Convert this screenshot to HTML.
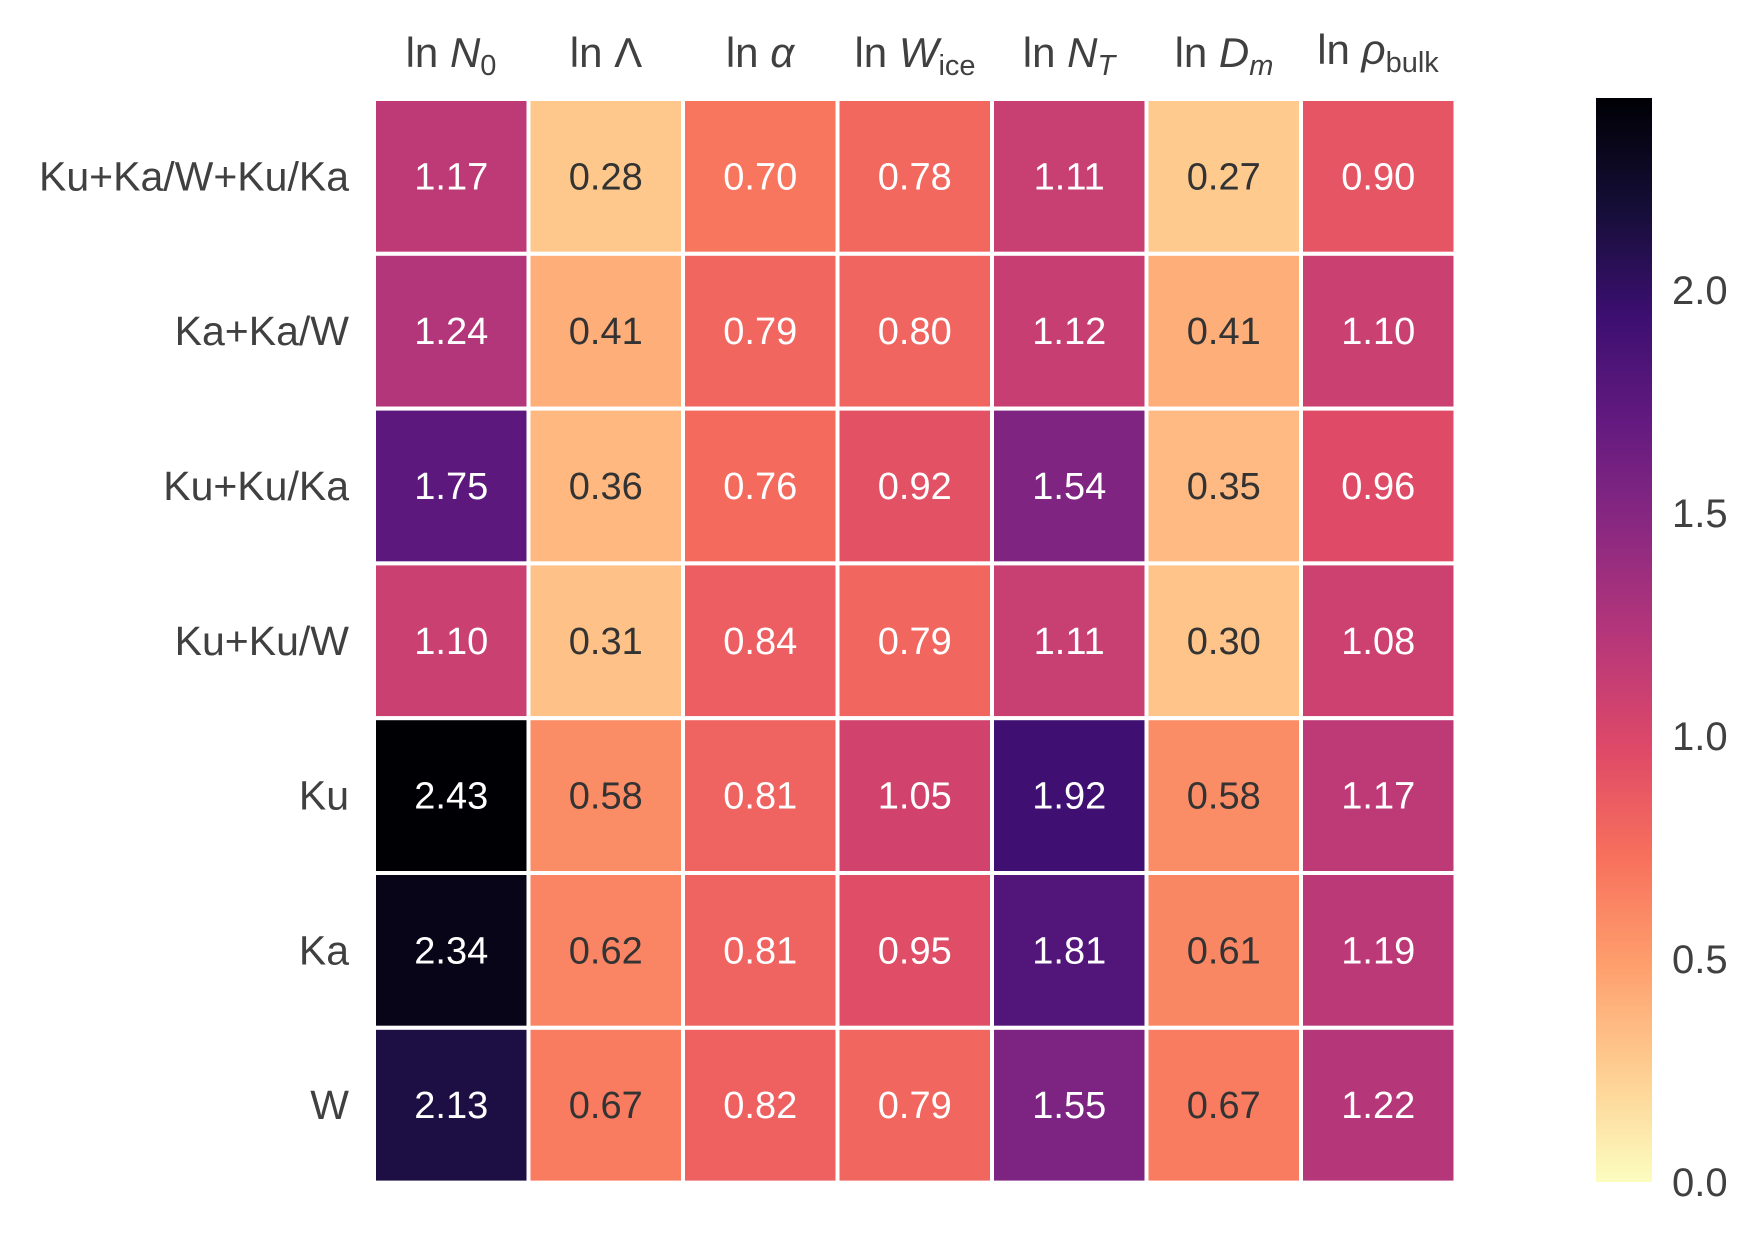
<!DOCTYPE html>
<html><head><meta charset="utf-8"><style>
body{margin:0;background:#fff;}
svg{display:block;font-family:"Liberation Sans","DejaVu Sans",sans-serif;}
</style></head><body>
<svg id="chart" width="1762" height="1237" viewBox="0 0 1762 1237">
<defs><linearGradient id="cbgrad" x1="0" y1="1" x2="0" y2="0"></linearGradient></defs>
<g id="cols" font-size="42" fill="#404040" text-anchor="middle">
<text x="451" y="67">ln <tspan font-style="italic">N</tspan><tspan font-size="29" dy="8">0</tspan></text>
<text x="606" y="67">ln Λ</text>
<text x="760" y="67">ln <tspan font-style="italic">α</tspan></text>
<text x="915" y="67">ln <tspan font-style="italic">W</tspan><tspan font-size="29" dy="8">ice</tspan></text>
<text x="1069" y="67">ln <tspan font-style="italic">N</tspan><tspan font-size="29" font-style="italic" dy="8">T</tspan></text>
<text x="1224" y="67">ln <tspan font-style="italic">D</tspan><tspan font-size="29" font-style="italic" dy="8">m</tspan></text>
<text x="1378" y="64">ln <tspan font-style="italic">ρ</tspan><tspan font-size="29" dy="8">bulk</tspan></text>
</g>
<g id="cells"></g>
<g id="rows"></g>
<rect x="1596" y="98" width="56" height="1084" fill="url(#cbgrad)"/>
<g id="cbticks"></g>
</svg>
<script>
const rowLabels=["Ku+Ka/W+Ku/Ka","Ka+Ka/W","Ku+Ku/Ka","Ku+Ku/W","Ku","Ka","W"];
const r0=[1.17,0.28,0.70,0.78,1.11,0.27,0.90];
const r1=[1.24,0.41,0.79,0.80,1.12,0.41,1.10];
const r2=[1.75,0.36,0.76,0.92,1.54,0.35,0.96];
const r3=[1.10,0.31,0.84,0.79,1.11,0.30,1.08];
const r4=[2.43,0.58,0.81,1.05,1.92,0.58,1.17];
const r5=[2.34,0.62,0.81,0.95,1.81,0.61,1.19];
const r6=[2.13,0.67,0.82,0.79,1.55,0.67,1.22];
const rows=[r0,r1,r2,r3,r4,r5,r6];
const cbTicks=[0.0,0.5,1.0,1.5,2.0];
const vmin=0, vmax=2.43;

const NS="http://www.w3.org/2000/svg";
const magma=[[0,0,4],[20,14,54],[59,15,112],[100,26,128],[140,41,129],[183,55,121],[222,73,104],[247,112,92],[254,159,109],[254,207,146],[252,253,191]];
function cmap(v){let t=1-(v-vmin)/(vmax-vmin);t=Math.max(0,Math.min(1,t))*10;const i=Math.min(9,Math.floor(t)),f=t-i;const a=magma[i],b=magma[i+1];return [0,1,2].map(k=>Math.round(a[k]+(b[k]-a[k])*f));}
const X0=374,Y0=99,CW=154.5,CH=154.8;
const xPos=c=>X0+c*CW, yPos=r=>Y0+r*CH;
const cells=document.getElementById('cells');
rows.forEach((row,r)=>row.forEach((v,c)=>{
 const col=cmap(v);
 const rect=document.createElementNS(NS,'rect');
 rect.setAttribute('x',xPos(c));rect.setAttribute('y',yPos(r));rect.setAttribute('width',CW);rect.setAttribute('height',CH);
 rect.setAttribute('fill',`rgb(${col})`);rect.setAttribute('stroke','#fff');rect.setAttribute('stroke-width','4');
 
 
 cells.appendChild(rect);
 const lum=(0.299*col[0]+0.587*col[1]+0.114*col[2])/255;
 const t=document.createElementNS(NS,'text');
 t.setAttribute('x',xPos(c)+CW/2);t.setAttribute('y',yPos(r)+CH/2+13);
 t.setAttribute('text-anchor','middle');t.setAttribute('font-size','38');
 t.setAttribute('fill',lum>0.612?'#333':'#fff');
 t.textContent=v.toFixed(2);
 
 
 cells.appendChild(t);
}));
const rl=document.getElementById('rows');
rowLabels.forEach((s,r)=>{
 const t=document.createElementNS(NS,'text');
 t.setAttribute('x',349);t.setAttribute('y',yPos(r)+CH/2+14);
 t.setAttribute('text-anchor','end');t.setAttribute('font-size','41');t.setAttribute('fill','#404040');
 t.textContent=s;
 
 
 rl.appendChild(t);
});
const g=document.getElementById('cbgrad');
for(let i=0;i<=20;i++){const v=vmin+(vmax-vmin)*i/20;const s=document.createElementNS(NS,'stop');s.setAttribute('offset',(i/20));s.setAttribute('stop-color',`rgb(${cmap(v)})`);g.appendChild(s);}
const CBT=98,CBB=1182;
const cbY=v=>CBB-(v-vmin)/(vmax-vmin)*(CBB-CBT);
const ct=document.getElementById('cbticks');
cbTicks.forEach(v=>{
 const t=document.createElementNS(NS,'text');
 t.setAttribute('x',1672);t.setAttribute('y',cbY(v)+14);
 t.setAttribute('font-size','40');t.setAttribute('fill','#404040');
 t.textContent=v.toFixed(1);
 
 
 ct.appendChild(t);
});
</script>
</body></html>
